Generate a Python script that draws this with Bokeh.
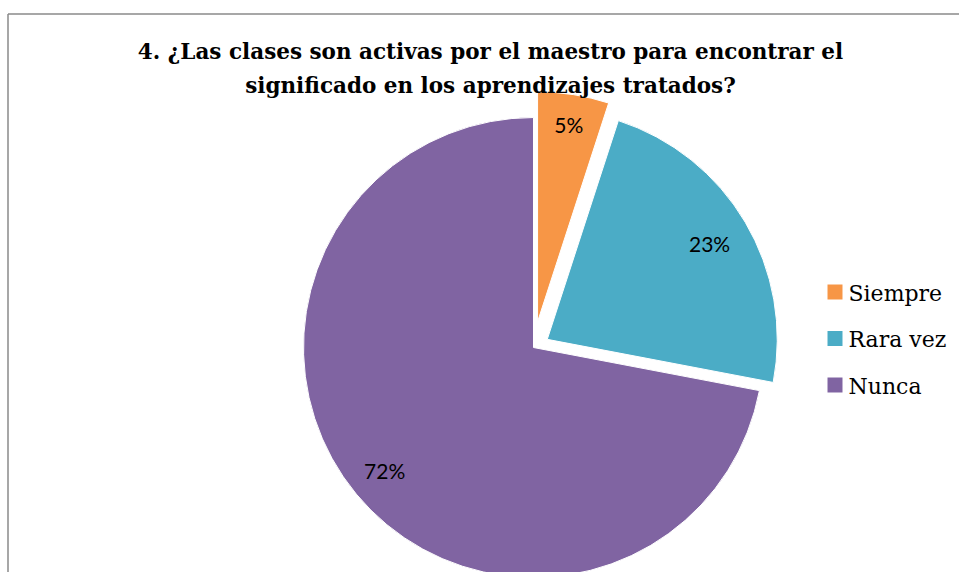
import math
from bokeh.plotting import figure
from bokeh.models import Range1d, ColumnDataSource
from bokeh.core.properties import value
from bokeh.embed import file_html
from bokeh.resources import INLINE

# ---- data ----
categories = ["Siempre", "Rara vez", "Nunca"]
percentages = [5, 23, 72]
colors = ["#F79646", "#4BACC6", "#8064A2"]
title_lines = ["4. ¿Las clases son activas por el maestro para encontrar el",
               "significado en los aprendizajes tratados?"]

# ---- layout (page pixel coordinates) ----
W, H = 959, 572
def Y(py):
    return H - py

cx, cy = 533, Y(347)
R = 230
explode = [26, 16, 0]
label_frac = [0.87, 0.82, 0.84]

p = figure(width=W, height=H, output_backend="svg", toolbar_location=None,
           x_range=Range1d(0, W), y_range=Range1d(0, H),
           x_axis_location=None, y_axis_location=None)
p.min_border = 0
p.min_border_left = p.min_border_right = p.min_border_top = p.min_border_bottom = 0
p.grid.visible = False
p.outline_line_color = None
p.background_fill_color = "white"
p.border_fill_color = "white"

# frame border (gray)
p.multi_line(xs=[[7.5, 7.5], [7.5, 965]], ys=[[Y(580), Y(13.5)], [Y(13.5), Y(13.5)]],
             line_color="#8a8a8a", line_width=1.5)

total = sum(percentages)
starts, ends, xs, ys, lx, ly, labels = [], [], [], [], [], [], []
a = math.pi / 2
for v, e, f in zip(percentages, explode, label_frac):
    sweep = 2 * math.pi * v / total
    s, en = a, a - sweep
    mid = (s + en) / 2
    ox, oy = cx + e * math.cos(mid), cy + e * math.sin(mid)
    starts.append(s); ends.append(en); xs.append(ox); ys.append(oy)
    lx.append(ox + f * R * math.cos(mid))
    ly.append(oy + f * R * math.sin(mid))
    labels.append(f"{v}%")
    a = en

src = ColumnDataSource(dict(x=xs, y=ys, start=starts, end=ends, color=colors,
                            lx=lx, ly=ly, label=labels, cat=categories))
p.wedge(x="x", y="y", radius=R, start_angle="start", end_angle="end",
        direction="clock", fill_color="color", line_color="white", line_width=1,
        source=src)
p.text(x="lx", y="ly", text="label", source=src, text_align="center",
       text_baseline="middle", text_font=value("Lato"), text_font_size="21px",
       text_color="black")

# title
p.text(x=[490, 490], y=[Y(51), Y(85)], text=title_lines, text_align="center",
       text_baseline="middle", text_font=value("DejaVu Serif"),
       text_font_style="bold", text_font_size="21.5px", text_color="black")

# legend
leg_y = [Y(291.5 + 46.5 * i) for i in range(len(categories))]
p.rect(x=[834.5] * len(categories), y=leg_y, width=15, height=15,
       fill_color=colors, line_color=None)
p.text(x=[848] * len(categories), y=[v - 1 for v in leg_y], text=categories,
       text_align="left", text_baseline="middle", text_font=value("DejaVu Serif"),
       text_font_size="22px", text_color="black")

open("out.html", "w").write(file_html(p, INLINE))
